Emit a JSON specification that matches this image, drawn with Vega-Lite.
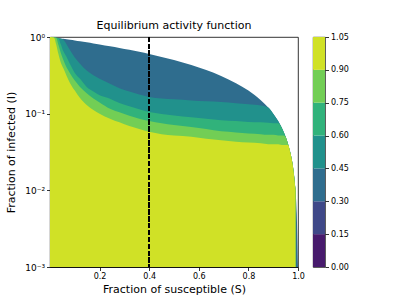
{
  "$schema": "https://vega.github.io/schema/vega-lite/v6.json",
  "padding": {"left": 5, "top": 19, "right": 5, "bottom": 5},
  "background": "white",
  "spacing": 15,
  "bounds": "flush",
  "config": {
    "font": "DejaVu Sans",
    "view": {"stroke": "black", "strokeWidth": 0.8},
    "axis": {
      "labelColor": "black", "labelFontSize": 8, "labelFont": "DejaVu Sans",
      "titleColor": "black", "titleFontSize": 11, "titleFontWeight": "normal", "titleFont": "DejaVu Sans",
      "tickColor": "black", "tickWidth": 0.8, "domainColor": "black", "domainWidth": 0.8,
      "grid": false, "labelPadding": 2, "labelFlush": false
    }
  },
  "hconcat": [
    {
      "width": 248,
      "height": 230,
      "title": {"text": "Equilibrium activity function", "fontSize": 11, "fontWeight": "normal", "color": "black", "offset": 2, "anchor": "middle"},
      "data": {"values": [
        {"S": 0.0, "d": 1, "t": 1, "g": 1, "l": 1, "yl": 1},
        {"S": 0.016, "d": 0.984, "t": 0.984, "g": 0.984, "l": 0.984, "yl": 0.984},
        {"S": 0.025, "d": 0.975, "t": 0.975, "g": 0.975, "l": 0.975, "yl": 0.8},
        {"S": 0.034, "d": 0.966, "t": 0.966, "g": 0.966, "l": 0.79, "yl": 0.6},
        {"S": 0.043, "d": 0.957, "t": 0.957, "g": 0.81, "l": 0.63, "yl": 0.47},
        {"S": 0.054, "d": 0.946, "t": 0.92, "g": 0.65, "l": 0.5, "yl": 0.39},
        {"S": 0.067, "d": 0.933, "t": 0.8, "g": 0.55, "l": 0.4, "yl": 0.31},
        {"S": 0.081, "d": 0.919, "t": 0.67, "g": 0.44, "l": 0.335, "yl": 0.25},
        {"S": 0.1, "d": 0.9, "t": 0.54, "g": 0.34, "l": 0.27, "yl": 0.2},
        {"S": 0.121, "d": 0.879, "t": 0.449, "g": 0.285, "l": 0.223, "yl": 0.16},
        {"S": 0.148, "d": 0.852, "t": 0.365, "g": 0.223, "l": 0.185, "yl": 0.13},
        {"S": 0.175, "d": 0.825, "t": 0.316, "g": 0.195, "l": 0.158, "yl": 0.112},
        {"S": 0.2, "d": 0.8, "t": 0.285, "g": 0.174, "l": 0.14, "yl": 0.1},
        {"S": 0.242, "d": 0.758, "t": 0.246, "g": 0.157, "l": 0.116, "yl": 0.086},
        {"S": 0.28, "d": 0.72, "t": 0.215, "g": 0.138, "l": 0.104, "yl": 0.077},
        {"S": 0.32, "d": 0.68, "t": 0.195, "g": 0.125, "l": 0.094, "yl": 0.069},
        {"S": 0.36, "d": 0.64, "t": 0.178, "g": 0.114, "l": 0.086, "yl": 0.063},
        {"S": 0.4, "d": 0.6, "t": 0.165, "g": 0.105, "l": 0.08, "yl": 0.058},
        {"S": 0.45, "d": 0.55, "t": 0.158, "g": 0.099, "l": 0.075, "yl": 0.054},
        {"S": 0.5, "d": 0.5, "t": 0.154, "g": 0.095, "l": 0.071, "yl": 0.052},
        {"S": 0.57, "d": 0.43, "t": 0.149, "g": 0.09, "l": 0.067, "yl": 0.05},
        {"S": 0.63, "d": 0.37, "t": 0.145, "g": 0.086, "l": 0.063, "yl": 0.047},
        {"S": 0.69, "d": 0.31, "t": 0.142, "g": 0.082, "l": 0.059, "yl": 0.045},
        {"S": 0.75, "d": 0.25, "t": 0.137, "g": 0.08, "l": 0.057, "yl": 0.043},
        {"S": 0.8, "d": 0.2, "t": 0.133, "g": 0.078, "l": 0.055, "yl": 0.042},
        {"S": 0.85, "d": 0.15, "t": 0.128, "g": 0.077, "l": 0.054, "yl": 0.041},
        {"S": 0.88, "d": 0.12, "t": 0.12, "g": 0.076, "l": 0.053, "yl": 0.04},
        {"S": 0.9, "d": 0.1, "t": 0.1, "g": 0.075, "l": 0.053, "yl": 0.04},
        {"S": 0.92, "d": 0.08, "t": 0.08, "g": 0.075, "l": 0.052, "yl": 0.04},
        {"S": 0.94, "d": 0.06, "t": 0.06, "g": 0.06, "l": 0.052, "yl": 0.039},
        {"S": 0.95, "d": 0.05, "t": 0.05, "g": 0.05, "l": 0.05, "yl": 0.039},
        {"S": 0.96, "d": 0.04, "t": 0.04, "g": 0.04, "l": 0.04, "yl": 0.039},
        {"S": 0.97, "d": 0.03, "t": 0.03, "g": 0.03, "l": 0.03, "yl": 0.03},
        {"S": 0.98, "d": 0.02, "t": 0.02, "g": 0.02, "l": 0.02, "yl": 0.02},
        {"S": 0.99, "d": 0.01, "t": 0.01, "g": 0.01, "l": 0.01, "yl": 0.01},
        {"S": 0.995, "d": 0.005, "t": null, "g": null, "l": null, "yl": null},
        {"S": 1.0, "d": 0.001, "t": null, "g": null, "l": null, "yl": null}
      ]},
      "encoding": {
        "x": {
          "field": "S", "type": "quantitative",
          "scale": {"domain": [0, 1], "nice": false, "zero": false},
          "axis": {"values": [0.2, 0.4, 0.6, 0.8, 1.0], "format": ".1f", "tickSize": 3.5, "title": "Fraction of susceptible (S)", "titlePadding": 3}
        },
        "y": {
          "field": "d", "type": "quantitative",
          "scale": {"type": "log", "domain": [0.001, 1], "nice": false},
          "axis": {
            "values": [0.001, 0.01, 0.1, 1],
            "labelExpr": "datum.value == 1 ? '10⁰' : datum.value == 0.1 ? '10⁻¹' : datum.value == 0.01 ? '10⁻²' : '10⁻³'",
            "labelFontSize": 9,
            "tickSize": 3.5,
            "title": "Fraction of infected (I)",
            "titlePadding": 8
          }
        },
        "y2": {"datum": 0.001}
      },
      "layer": [
        {
          "mark": {"type": "area", "color": "#2f6d8e", "interpolate": "monotone"}
        },
        {
          "mark": {"type": "area", "color": "#21918c", "interpolate": "monotone"},
          "encoding": {"y": {"field": "t", "type": "quantitative"}}
        },
        {
          "mark": {"type": "area", "color": "#31b27b", "interpolate": "monotone"},
          "encoding": {"y": {"field": "g", "type": "quantitative"}}
        },
        {
          "mark": {"type": "area", "color": "#72ce55", "interpolate": "monotone"},
          "encoding": {"y": {"field": "l", "type": "quantitative"}}
        },
        {
          "mark": {"type": "area", "color": "#d0e126", "interpolate": "monotone"},
          "encoding": {"y": {"field": "yl", "type": "quantitative"}}
        },
        {
          "mark": {"type": "tick", "color": "black", "orient": "horizontal", "size": 2, "thickness": 0.8, "xOffset": -1},
          "data": {"values": [
            {"m": 0.002}, {"m": 0.003}, {"m": 0.004}, {"m": 0.005}, {"m": 0.006}, {"m": 0.007}, {"m": 0.008}, {"m": 0.009},
            {"m": 0.02}, {"m": 0.03}, {"m": 0.04}, {"m": 0.05}, {"m": 0.06}, {"m": 0.07}, {"m": 0.08}, {"m": 0.09},
            {"m": 0.2}, {"m": 0.3}, {"m": 0.4}, {"m": 0.5}, {"m": 0.6}, {"m": 0.7}, {"m": 0.8}, {"m": 0.9}
          ]},
          "encoding": {
            "x": {"datum": 0},
            "y": {"field": "m", "type": "quantitative"},
            "y2": null
          }
        },
        {
          "mark": {"type": "rule", "color": "black", "strokeWidth": 1.3, "strokeDash": [4.8, 2.1]},
          "encoding": {"x": {"datum": 0.4}, "y": null, "y2": null}
        }
      ]
    },
    {
      "width": 12,
      "height": 230,
      "data": {"values": [
        {"lo": 0.0, "hi": 0.15},
        {"lo": 0.15, "hi": 0.3},
        {"lo": 0.3, "hi": 0.45},
        {"lo": 0.45, "hi": 0.6},
        {"lo": 0.6, "hi": 0.75},
        {"lo": 0.75, "hi": 0.9},
        {"lo": 0.9, "hi": 1.05}
      ]},
      "mark": {"type": "rect"},
      "encoding": {
        "y": {
          "field": "lo", "type": "quantitative",
          "scale": {"domain": [0, 1.05], "nice": false, "zero": false},
          "axis": {"orient": "right", "values": [0, 0.15, 0.3, 0.45, 0.6, 0.75, 0.9, 1.05], "format": ".2f", "title": null, "tickSize": 3.5, "domain": false}
        },
        "y2": {"field": "hi"},
        "color": {
          "field": "lo", "type": "ordinal",
          "scale": {"domain": [0, 0.15, 0.3, 0.45, 0.6, 0.75, 0.9], "range": ["#471a6c", "#3f4888", "#2f6d8e", "#21918c", "#31b27b", "#72ce55", "#d0e126"]},
          "legend": null
        }
      }
    }
  ]
}
